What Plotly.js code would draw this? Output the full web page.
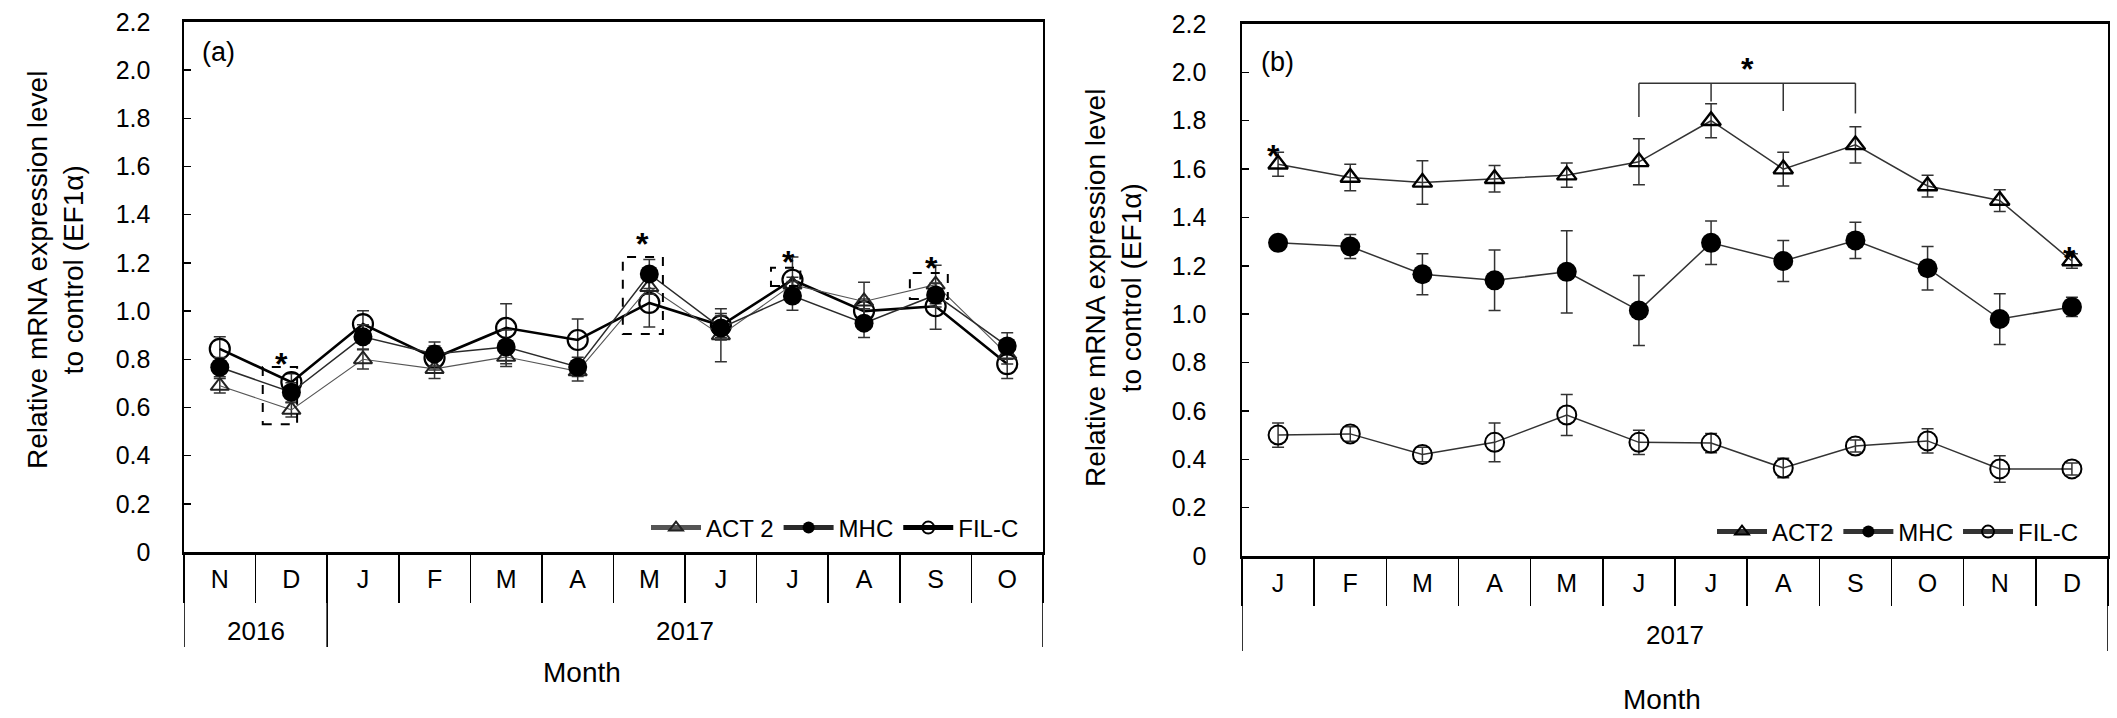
<!DOCTYPE html>
<html><head><meta charset="utf-8">
<script src="https://cdn.plot.ly/plotly-3.0.1.min.js"></script>
<style>html,body{margin:0;padding:0;background:#fff;}#chart{width:2117px;height:718px;}</style>
</head><body><div id="chart"></div>
<script>
// ---------- data ----------
const monthsA = ['N','D','J','F','M','A','M','J','J','A','S','O'];
const yearsA  = ['2016','2016','2017','2017','2017','2017','2017','2017','2017','2017','2017','2017'];
const act2A    = [0.69, 0.59, 0.80, 0.76, 0.81, 0.75, 1.10, 0.90, 1.11, 1.04, 1.11, 0.82];
const act2AErr = [0.03, 0.03, 0.04, 0.04, 0.04, 0.04, 0.03, 0.11, 0.03, 0.08, 0.08, 0.04];
const mhcA     = [0.767, 0.663, 0.893, 0.822, 0.851, 0.768, 1.154, 0.93, 1.063, 0.95, 1.067, 0.855];
const mhcAErr  = [0.04, 0.04, 0.05, 0.05, 0.07, 0.04, 0.06, 0.05, 0.06, 0.06, 0.05, 0.055];
const filcA    = [0.843, 0.705, 0.946, 0.805, 0.93, 0.88, 1.034, 0.94, 1.13, 1.00, 1.02, 0.78];
const filcAErr = [0.05, 0.035, 0.055, 0.05, 0.10, 0.087, 0.10, 0.05, 0.095, 0.05, 0.095, 0.06];

const monthsB = ['J','F','M','A','M','J','J','A','S','O','N','D'];
const yearsB  = ['2017','2017','2017','2017','2017','2017','2017','2017','2017','2017','2017','2017'];
const act2B    = [1.62, 1.565, 1.545, 1.56, 1.575, 1.63, 1.80, 1.60, 1.70, 1.53, 1.47, 1.22];
const act2BErr = [0.05, 0.055, 0.09, 0.055, 0.05, 0.095, 0.07, 0.07, 0.075, 0.045, 0.045, 0.03];
const mhcB     = [1.295, 1.28, 1.165, 1.14, 1.175, 1.015, 1.295, 1.22, 1.305, 1.19, 0.98, 1.03];
const mhcBErr  = [0.03, 0.05, 0.085, 0.125, 0.17, 0.145, 0.09, 0.085, 0.075, 0.09, 0.105, 0.04];
const filcB    = [0.50, 0.505, 0.42, 0.47, 0.583, 0.47, 0.467, 0.364, 0.455, 0.476, 0.36, 0.36];
const filcBErr = [0.05, 0.03, 0.03, 0.08, 0.085, 0.05, 0.04, 0.04, 0.025, 0.05, 0.055, 0.025];

const yTicks     = [0, 0.2, 0.4, 0.6, 0.8, 1.0, 1.2, 1.4, 1.6, 1.8, 2.0, 2.2];
const yTickText  = ['0','0.2','0.4','0.6','0.8','1.0','1.2','1.4','1.6','1.8','2.0','2.2'];
const yTitle = 'Relative mRNA expression level<br>to control (EF1α)';
const xTitle = 'Month';
const namesA = ['ACT 2','MHC','FIL-C'];
const namesB = ['ACT2','MHC','FIL-C'];
// significance marks: [x index, y value]
const starsA = [[0.855, 0.818], [5.91, 1.316], [7.95, 1.24], [9.94, 1.216]];
const boxesA = [[0.60, 1.08, 0.53, 0.768], [5.63, 6.19, 0.905, 1.225], [7.70, 8.11, 1.104, 1.18], [9.64, 10.17, 1.05, 1.158]];
const starsB = [[-0.07, 1.69], [6.5, 2.05], [10.97, 1.27]];

// ---------- geometry ----------
const W = 2117, H = 718;
const px = v => v / W, py = v => 1 - v / H;
const FONT = 'Arial, "Liberation Sans", sans-serif';

function trace(name, xa, ya, lg, months, vals, errs, st) {
  return {
    type: 'scatter', mode: 'lines+markers', name: name,
    x: months.map((_, i) => i), y: vals,
    xaxis: xa, yaxis: ya, legend: lg, legendrank: st.rank,
    error_y: {type: 'data', array: errs, visible: true, color: '#333', thickness: 1.5, width: 6},
    line: st.line, marker: st.marker, hoverinfo: 'skip'
  };
}

const data = [
  trace(namesA[2], 'x', 'y', 'legend', monthsA, filcA, filcAErr,
    {rank: 3, line: {color: '#000', width: 2.6}, marker: {symbol: 'circle-open', size: 20, color: '#000', line: {width: 2.2, color: '#000'}}}),
  trace(namesA[0], 'x', 'y', 'legend', monthsA, act2A, act2AErr,
    {rank: 1, line: {color: '#555', width: 1.1}, marker: {symbol: 'triangle-up-open', size: 16, color: '#222', line: {width: 2, color: '#222'}}}),
  trace(namesA[1], 'x', 'y', 'legend', monthsA, mhcA, mhcAErr,
    {rank: 2, line: {color: '#2a2a2a', width: 1.5}, marker: {symbol: 'circle', size: 19, color: '#000'}}),

  trace(namesB[0], 'x2', 'y2', 'legend2', monthsB, act2B, act2BErr,
    {rank: 1, line: {color: '#333', width: 1.5}, marker: {symbol: 'triangle-up-open', size: 17, color: '#000', line: {width: 2.4, color: '#000'}}}),
  trace(namesB[1], 'x2', 'y2', 'legend2', monthsB, mhcB, mhcBErr,
    {rank: 2, line: {color: '#333', width: 1.5}, marker: {symbol: 'circle', size: 20, color: '#000'}}),
  trace(namesB[2], 'x2', 'y2', 'legend2', monthsB, filcB, filcBErr,
    {rank: 3, line: {color: '#333', width: 1.5}, marker: {symbol: 'circle-open', size: 19, color: '#000', line: {width: 2, color: '#000'}}})
];

function xAxis(dom, months, anchor, sepLen) {
  const idx = months.map((_, i) => i);
  const bounds = [-0.5].concat(idx.map(i => i + 0.5));
  return {
    domain: dom, anchor: anchor, range: [-0.5, months.length - 0.5],
    tickmode: 'array', tickvals: idx, ticktext: months, ticks: '',
    tickfont: {size: 25, color: '#000', family: FONT}, ticklabelstandoff: 3,
    showline: true, linewidth: 2.6, linecolor: '#000', mirror: true,
    showgrid: false, zeroline: false, fixedrange: true,
    minor: {tickmode: 'array', tickvals: bounds, ticks: 'outside', ticklen: sepLen, tickwidth: 1.6, tickcolor: '#000', showgrid: false}
  };
}
function yAxis(dom, anchor, standoff) {
  return {
    domain: dom, anchor: anchor, range: [0, 2.2],
    tickmode: 'array', tickvals: yTicks, ticktext: yTickText,
    ticks: 'inside', ticklen: 7, tickwidth: 1.5, tickcolor: '#000',
    tickfont: {size: 25, color: '#000', family: FONT}, ticklabelstandoff: standoff,
    showline: true, linewidth: 1.6, linecolor: '#000', mirror: true,
    showgrid: false, zeroline: false, fixedrange: true
  };
}

const shapes = [], annotations = [];
function yearRow(years, xref, axisBottom, lineBottom, labelY) {
  let start = 0;
  const groups = [];
  for (let i = 1; i <= years.length; i++) {
    if (i === years.length || years[i] !== years[start]) { groups.push([years[start], start, i - 1]); start = i; }
  }
  const edges = new Set();
  groups.forEach(g => { edges.add(g[1] - 0.5); edges.add(g[2] + 0.5); });
  edges.forEach(e => shapes.push({type: 'line', xref: xref, yref: 'paper', x0: e, x1: e, y0: py(axisBottom), y1: py(lineBottom), line: {color: '#000', width: 1.6}}));
  groups.forEach(g => annotations.push({xref: xref, yref: 'paper', x: (g[1] + g[2]) / 2, y: py(labelY), text: g[0], showarrow: false, xanchor: 'center', yanchor: 'middle', font: {size: 26, color: '#000', family: FONT}}));
}
yearRow(yearsA, 'x', 552, 647, 631);
yearRow(yearsB, 'x2', 556, 651, 635);

boxesA.forEach(b => shapes.push({type: 'rect', xref: 'x', yref: 'y', x0: b[0], x1: b[1], y0: b[2], y1: b[3], line: {color: '#000', width: 2, dash: 'dash'}}));
starsA.forEach(s => annotations.push({xref: 'x', yref: 'y', x: s[0], y: s[1], text: '*', showarrow: false, yshift: -9, font: {size: 32, color: '#000', family: FONT, weight: 'bold'}}));
starsB.forEach(s => annotations.push({xref: 'x2', yref: 'y2', x: s[0], y: s[1], text: '*', showarrow: false, yshift: -9, font: {size: 32, color: '#000', family: FONT, weight: 'bold'}}));

// bracket over Jun-Sep in panel (b)
const brY = 1.955;
const brFeet = [[5, 1.815], [6, 1.88], [7, 1.84], [8, 1.83]];
shapes.push({type: 'line', xref: 'x2', yref: 'y2', x0: 5, x1: 8, y0: brY, y1: brY, line: {color: '#333', width: 1.5}});
brFeet.forEach(f => shapes.push({type: 'line', xref: 'x2', yref: 'y2', x0: f[0], x1: f[0], y0: brY, y1: f[1], line: {color: '#333', width: 1.5}}));

// titles and panel labels
annotations.push({xref: 'paper', yref: 'paper', x: px(55), y: py(270), text: yTitle, textangle: -90, showarrow: false, xanchor: 'center', yanchor: 'middle', font: {size: 28, color: '#000', family: FONT}});
annotations.push({xref: 'paper', yref: 'paper', x: px(1114), y: py(288), text: yTitle, textangle: -90, showarrow: false, xanchor: 'center', yanchor: 'middle', font: {size: 28, color: '#000', family: FONT}});
annotations.push({xref: 'paper', yref: 'paper', x: px(582), y: py(672), text: xTitle, showarrow: false, xanchor: 'center', yanchor: 'middle', font: {size: 28, color: '#000', family: FONT}});
annotations.push({xref: 'paper', yref: 'paper', x: px(1662), y: py(699), text: xTitle, showarrow: false, xanchor: 'center', yanchor: 'middle', font: {size: 28, color: '#000', family: FONT}});
annotations.push({xref: 'paper', yref: 'paper', x: px(218), y: py(52), text: '(a)', showarrow: false, xanchor: 'center', yanchor: 'middle', font: {size: 27, color: '#000', family: FONT}});
annotations.push({xref: 'paper', yref: 'paper', x: px(1277), y: py(62), text: '(b)', showarrow: false, xanchor: 'center', yanchor: 'middle', font: {size: 27, color: '#000', family: FONT}});

const legendBase = {orientation: 'h', xanchor: 'right', yanchor: 'middle', bgcolor: 'rgba(0,0,0,0)', borderwidth: 0,
  font: {size: 24, color: '#000', family: FONT}, itemsizing: 'constant', itemwidth: 50, traceorder: 'normal', itemclick: false, itemdoubleclick: false};

const layout = {
  width: W, height: H, margin: {l: 0, r: 0, t: 0, b: 0},
  paper_bgcolor: '#fff', plot_bgcolor: '#fff',
  font: {family: FONT, color: '#000'},
  showlegend: true,
  xaxis: xAxis([px(184), px(1043)], monthsA, 'y', 48),
  yaxis: yAxis([py(552), py(22)], 'x', 27),
  xaxis2: xAxis([px(1242), px(2108)], monthsB, 'y2', 47),
  yaxis2: yAxis([py(556), py(24)], 'x2', 29),
  legend: Object.assign({}, legendBase, {x: px(1024), y: py(528)}),
  legend2: Object.assign({}, legendBase, {x: px(2084), y: py(532)}),
  shapes: shapes, annotations: annotations
};

Plotly.newPlot('chart', data, layout, {displayModeBar: false, staticPlot: true});
</script></body></html>
